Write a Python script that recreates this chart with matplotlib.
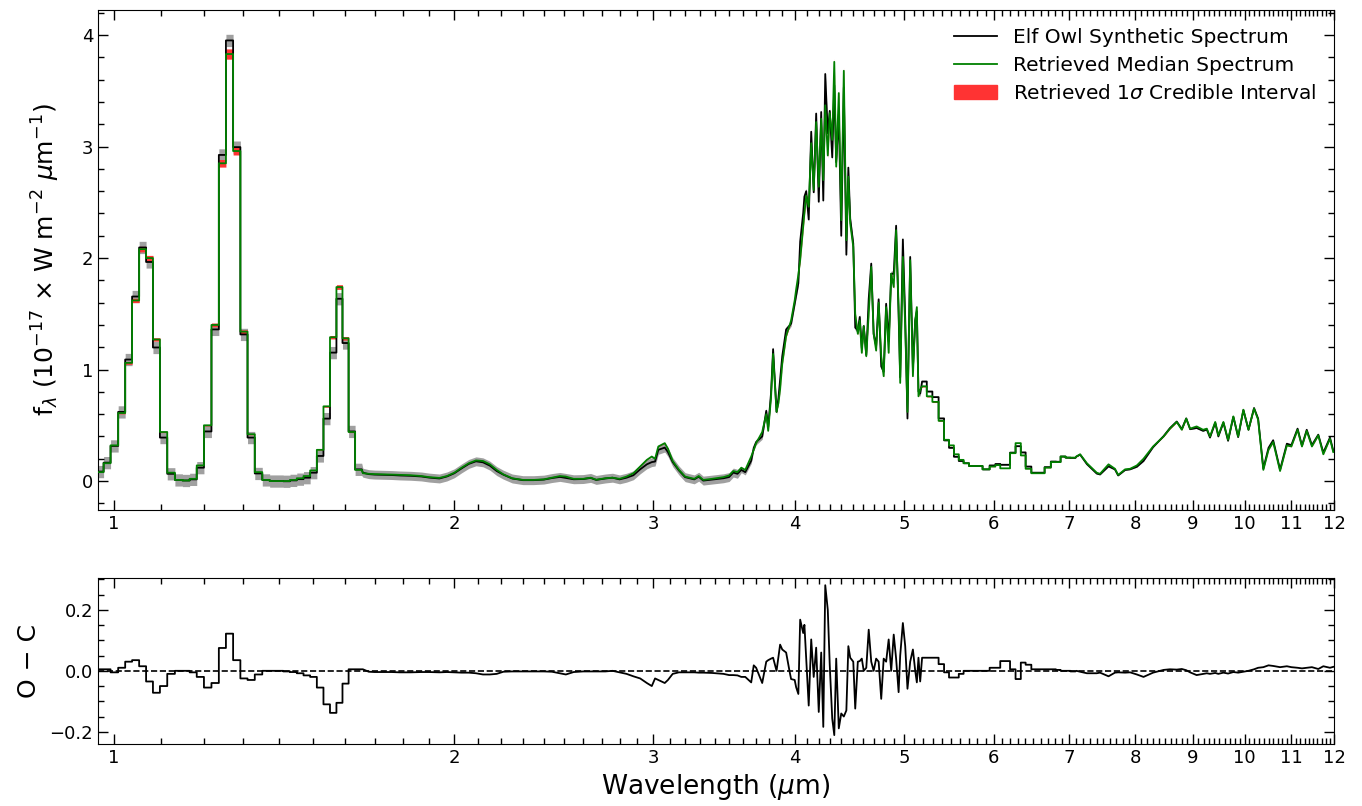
"""Elf Owl synthetic spectrum vs retrieved median, with O-C residuals."""

import matplotlib

matplotlib.use("Agg")
import matplotlib.pyplot as plt
import numpy as np
from matplotlib.lines import Line2D
from matplotlib.patches import Patch

# --- data (wavelength in micron, flux in 1e-17 W m^-2 um^-1) ---
# coarse binned segment, 0.97-1.65 um (bin centres)
wave_a = [0.973, 0.985, 1.001, 1.016, 1.030, 1.045, 1.060, 1.075, 1.090, 1.106,
          1.123, 1.141, 1.158, 1.175, 1.192, 1.210, 1.229, 1.247, 1.265, 1.284,
          1.303, 1.322, 1.342, 1.363, 1.383, 1.402, 1.421, 1.441, 1.461, 1.481,
          1.501, 1.522, 1.542, 1.563, 1.583, 1.602, 1.623, 1.645]
model_a = [0.08, 0.16, 0.32, 0.61, 1.06, 1.62, 2.08, 2.00, 1.27, 0.44,
           0.075, 0.01, 0.005, 0.02, 0.14, 0.50, 1.40, 2.85, 3.83, 2.96,
           1.34, 0.42, 0.08, 0.01, 0.0, 0.0, 0.0, 0.01, 0.025, 0.045,
           0.095, 0.28, 0.67, 1.29, 1.74, 1.28, 0.44, 0.10]
resid_a = [0.005, 0.005, -0.005, 0.01, 0.03, 0.035, 0.015, -0.035, -0.072, -0.05,
           -0.01, 0.0, 0.0, -0.005, -0.02, -0.055, -0.04, 0.075, 0.122, 0.035,
           -0.025, -0.03, -0.012, 0.0, 0.0, 0.0, -0.002, -0.004, -0.008, -0.015,
           -0.02, -0.055, -0.11, -0.138, -0.105, -0.042, 0.005, 0.005]

# fine segment, 1.66-3.56 um
wave_b1 = [1.66, 1.68, 1.70, 1.73, 1.76, 1.79, 1.83, 1.87, 1.90, 1.94,
           1.97, 2.00, 2.03, 2.06, 2.09, 2.12, 2.15, 2.18, 2.21, 2.25,
           2.30, 2.35, 2.40, 2.44, 2.48, 2.51, 2.55, 2.60, 2.64, 2.67,
           2.72, 2.76, 2.80, 2.84, 2.88, 2.92, 2.96, 2.99, 3.01, 3.03,
           3.07, 3.09, 3.12, 3.16, 3.20, 3.26, 3.29, 3.32, 3.38, 3.46,
           3.50, 3.53, 3.56]
model_b1 = [0.070, 0.065, 0.062, 0.060, 0.058, 0.055, 0.052, 0.045, 0.035, 0.028,
            0.045, 0.075, 0.12, 0.16, 0.185, 0.18, 0.15, 0.10, 0.06, 0.025,
            0.01, 0.01, 0.015, 0.03, 0.045, 0.04, 0.02, 0.02, 0.03, 0.012,
            0.025, 0.03, 0.02, 0.04, 0.07, 0.13, 0.19, 0.22, 0.20, 0.31,
            0.34, 0.29, 0.18, 0.10, 0.04, 0.02, 0.045, 0.01, 0.02, 0.035,
            0.05, 0.09, 0.08]
resid_b1 = [0.005, -0.003, -0.004, -0.004, -0.004, -0.005, -0.005, -0.004, -0.004, -0.005,
            -0.004, -0.005, -0.006, -0.006, -0.008, -0.012, -0.012, -0.01, -0.003, -0.002,
            -0.002, -0.002, -0.002, -0.003, -0.008, -0.012, -0.004, -0.002, -0.002, -0.002,
            -0.002, 0.0, -0.005, -0.01, -0.018, -0.025, -0.04, -0.05, -0.025, -0.03,
            -0.04, -0.03, -0.01, -0.005, -0.005, -0.005, -0.006, -0.006, -0.007, -0.01,
            -0.014, -0.014, -0.015]

# fine segment, 3.59-5.17 um (CO2 / CO band region)
wave_b2 = [3.588, 3.617, 3.661, 3.680, 3.698, 3.744, 3.775, 3.790, 3.812, 3.828,
           3.855, 3.870, 3.883, 3.900, 3.931, 3.960, 3.971, 4.000, 4.012, 4.030,
           4.045, 4.070, 4.080, 4.095, 4.116, 4.137, 4.158, 4.179, 4.201, 4.222,
           4.240, 4.257, 4.279, 4.296, 4.318, 4.336, 4.353, 4.376, 4.398, 4.421,
           4.444, 4.462, 4.479, 4.507, 4.525, 4.549, 4.567, 4.586, 4.604, 4.628,
           4.651, 4.675, 4.698, 4.722, 4.746, 4.771, 4.795, 4.819, 4.844, 4.869,
           4.894, 4.918, 4.943, 4.959, 4.986, 5.010, 5.033, 5.061, 5.089, 5.113,
           5.130, 5.147, 5.165]
model_b2 = [0.12, 0.10, 0.22, 0.28, 0.34, 0.44, 0.60, 0.45, 0.75, 1.14,
            0.62, 0.70, 0.82, 1.05, 1.30, 1.40, 1.44, 1.62, 1.72, 1.85,
            1.98, 2.28, 2.40, 2.56, 2.46, 3.03, 2.61, 3.22, 2.64, 3.25,
            2.70, 3.37, 2.92, 3.30, 3.06, 3.76, 2.82, 3.48, 2.34, 3.68,
            2.16, 2.73, 2.31, 2.10, 1.50, 1.32, 1.44, 1.15, 1.39, 1.12,
            1.50, 1.92, 1.32, 1.17, 1.60, 1.12, 0.94, 1.56, 1.15, 1.86,
            1.74, 2.25, 1.56, 0.88, 2.01, 1.38, 0.62, 1.98, 0.94, 1.44,
            1.56, 0.76, 0.82]
resid_b2 = [-0.02, -0.02, -0.038, 0.018, 0.01, -0.04, 0.03, 0.035, 0.04, 0.043,
            0.0, 0.046, 0.086, 0.07, 0.06, -0.005, -0.027, -0.03, -0.054, -0.076,
            0.168, 0.124, 0.151, 0.04, -0.114, 0.103, -0.02, 0.076, -0.135, 0.06,
            -0.184, 0.281, 0.2, 0.02, -0.157, -0.211, 0.04, -0.189, -0.14, -0.15,
            -0.13, 0.081, 0.043, 0.03, -0.124, 0.03, 0.032, 0.04, 0.0, 0.01,
            0.135, 0.03, 0.0, 0.04, 0.03, -0.092, 0.04, 0.03, 0.103, 0.0,
            0.119, 0.04, -0.07, 0.05, 0.157, 0.081, -0.059, 0.03, 0.07, 0.0,
            -0.038, 0.043, -0.035]

# coarse binned segment, 5.2-7.05 um
wave_c = [5.21, 5.26, 5.33, 5.395, 5.45, 5.505, 5.56, 5.615, 5.67, 5.74,
          5.82, 5.91, 5.99, 6.05, 6.11, 6.17, 6.235, 6.31, 6.37, 6.435,
          6.52, 6.61, 6.70, 6.78, 6.84, 6.91, 6.98, 7.05]
model_c = [0.85, 0.76, 0.71, 0.54, 0.37, 0.32, 0.24, 0.19, 0.16, 0.135,
           0.135, 0.105, 0.13, 0.143, 0.114, 0.114, 0.25, 0.34, 0.23, 0.11,
           0.07, 0.07, 0.12, 0.17, 0.17, 0.22, 0.21, 0.21]
resid_c = [0.043, 0.043, 0.043, 0.022, -0.005, -0.022, -0.022, -0.01, 0.0, 0.0,
           0.0, 0.0, 0.01, 0.01, 0.032, 0.032, 0.005, -0.027, 0.027, 0.02,
           0.005, 0.005, 0.005, 0.005, 0.003, 0.0, 0.0, -0.002]

# fine segment, 7.1-12 um
wave_d = [7.10, 7.154, 7.253, 7.40, 7.45, 7.58, 7.68, 7.73, 7.84, 7.92,
          8.03, 8.14, 8.30, 8.48, 8.59, 8.71, 8.80, 8.88, 8.95, 9.07,
          9.19, 9.26, 9.32, 9.42, 9.48, 9.578, 9.67, 9.774, 9.87, 9.976,
          10.08, 10.195, 10.28, 10.39, 10.50, 10.60, 10.75, 10.90, 11.00, 11.14,
          11.24, 11.35, 11.47, 11.62, 11.74, 11.90, 11.98]
model_d = [0.22, 0.24, 0.16, 0.075, 0.065, 0.15, 0.11, 0.055, 0.105, 0.11,
           0.14, 0.20, 0.31, 0.40, 0.47, 0.53, 0.46, 0.56, 0.47, 0.49,
           0.46, 0.47, 0.40, 0.53, 0.41, 0.53, 0.37, 0.58, 0.40, 0.64,
           0.46, 0.65, 0.55, 0.10, 0.28, 0.35, 0.09, 0.32, 0.31, 0.46,
           0.31, 0.45, 0.31, 0.41, 0.24, 0.38, 0.26]
resid_d = [0.0, -0.003, -0.008, -0.008, -0.006, -0.018, -0.006, -0.005, -0.006, -0.005,
           -0.012, -0.02, -0.006, 0.003, 0.005, 0.004, 0.006, 0.002, -0.005, -0.014,
           -0.01, -0.008, -0.01, -0.007, -0.01, -0.006, -0.009, -0.004, -0.006, -0.003,
           0.0, 0.005, 0.01, 0.012, 0.018, 0.016, 0.012, 0.015, 0.012, 0.01,
           0.008, 0.01, 0.012, 0.006, 0.015, 0.01, 0.013]

# per-segment data uncertainty and relative width of the retrieved 1-sigma band
seg_err = [0.055, 0.04, 0.025, 0.004, 0.003]
seg_ci_frac = [0.012, 0.008, 0.008, 0.008, 0.008]
seg_binned = [True, False, False, True, False]


def to_stairs(x, y):
    """Expand bin centres/values into a stair outline (edges at geometric midpoints)."""
    x = np.asarray(x, float)
    y = np.asarray(y, float)
    mid = np.sqrt(x[:-1] * x[1:])
    edges = np.concatenate([[x[0] ** 2 / mid[0]], mid, [x[-1] ** 2 / mid[-1]]])
    return np.repeat(edges, 2)[1:-1], np.repeat(y, 2)


segments = [(wave_a, model_a, resid_a), (wave_b1, model_b1, resid_b1),
            (wave_b2, model_b2, resid_b2), (wave_c, model_c, resid_c),
            (wave_d, model_d, resid_d)]

xs, mods, ress, errs, cis = [], [], [], [], []
for (w, m, r), err, cif, binned in zip(segments, seg_err, seg_ci_frac, seg_binned):
    w, m, r = np.asarray(w), np.asarray(m), np.asarray(r)
    if binned:
        xw, mm = to_stairs(w, m)
        _, rr = to_stairs(w, r)
    else:
        xw, mm, rr = w, m, r
    xs.append(xw)
    mods.append(mm)
    ress.append(rr)
    errs.append(np.full(len(xw), err))
    cis.append(np.abs(mm) * cif)

wl = np.concatenate(xs)
model = np.concatenate(mods)
resid = np.concatenate(ress)
err = np.concatenate(errs)
ci = np.concatenate(cis)
obs = model + resid

fig = plt.figure(figsize=(13.62, 8.06), dpi=100)
ax = fig.add_axes([0.072, 0.3672, 0.9075, 0.6204])
ax2 = fig.add_axes([0.072, 0.0770, 0.9075, 0.2060])

ax.fill_between(wl, obs - err, obs + err, color="#a0a0a0", lw=0, zorder=1)
ax.fill_between(wl, model - ci, model + ci, color="#ff3333", lw=0, zorder=2)
ax.plot(wl, obs, color="black", lw=1.3, zorder=3)
ax.plot(wl, model, color="green", lw=1.3, zorder=4)

ax2.axhline(0, color="black", ls="--", lw=1.2, zorder=1)
ax2.plot(wl, resid, color="black", lw=1.3, zorder=2)

major = list(range(1, 13))
minor = [v / 10 for v in range(10, 121) if v % 10]
for a in (ax, ax2):
    a.set_xscale("log")
    a.set_xlim(0.968, 12)
    a.set_xticks(major)
    a.set_xticklabels([str(v) for v in major])
    a.set_xticks(minor, minor=True)
    a.xaxis.set_minor_formatter(matplotlib.ticker.NullFormatter())
    a.tick_params(which="both", direction="in", top=True, right=True, labelsize=13)
    a.tick_params(which="major", length=7, width=1)
    a.tick_params(which="minor", length=4, width=1)

ax.set_ylim(-0.26, 4.225)
ax.yaxis.set_major_locator(matplotlib.ticker.MultipleLocator(1))
ax.yaxis.set_minor_locator(matplotlib.ticker.MultipleLocator(0.2))
ax.set_ylabel(r"f$_{\lambda}$ (10$^{-17}$ × W m$^{-2}$ $\mu$m$^{-1}$)", fontsize=18,
              labelpad=14)

ax2.set_ylim(-0.24, 0.305)
ax2.yaxis.set_major_locator(matplotlib.ticker.MultipleLocator(0.2))
ax2.yaxis.set_minor_locator(matplotlib.ticker.MultipleLocator(0.05))
ax2.set_ylabel("O − C", fontsize=18, labelpad=6)
ax2.set_xlabel(r"Wavelength ($\mu$m)", fontsize=19)

handles = [Line2D([], [], color="black", lw=1.3),
           Line2D([], [], color="green", lw=1.3),
           Patch(color="#ff3333")]
labels = ["Elf Owl Synthetic Spectrum", "Retrieved Median Spectrum",
          r"Retrieved 1$\sigma$ Credible Interval"]
ax.legend(handles, labels, loc="upper right", frameon=False, fontsize=14.5,
          handlelength=2.1, labelspacing=0.45)

fig.savefig("out.png", dpi=100)
plt.close(fig)
